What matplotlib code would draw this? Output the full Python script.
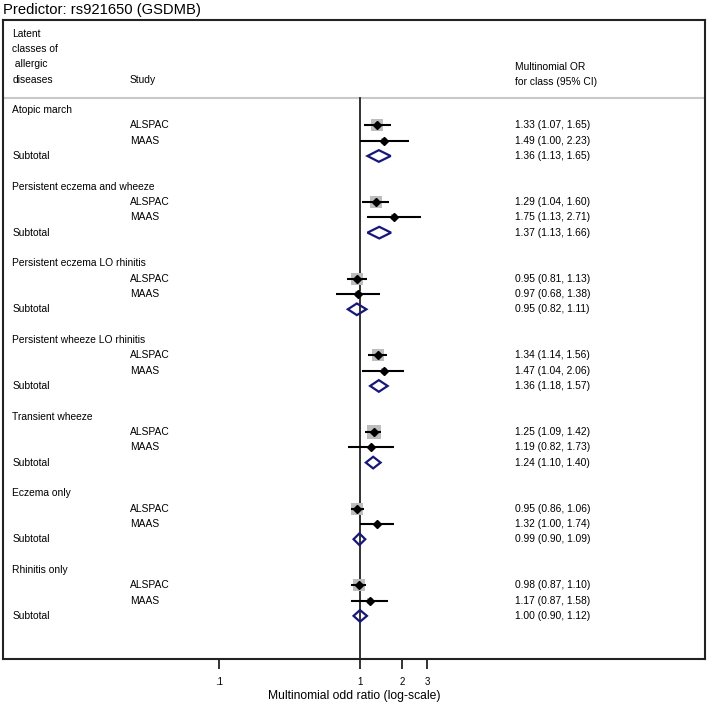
import numpy as np
import matplotlib.pyplot as plt
from matplotlib.patches import Polygon

plt.rcParams['font.family'] = ['Liberation Sans', 'DejaVu Sans']

classes = ["Atopic march", "Persistent eczema and wheeze", "Persistent eczema LO rhinitis",
           "Persistent wheeze LO rhinitis", "Transient wheeze", "Eczema only", "Rhinitis only"]
studies = ["ALSPAC", "MAAS"]

# per class: [ALSPAC, MAAS]
study_or = [[1.33, 1.49], [1.29, 1.75], [0.95, 0.97], [1.34, 1.47],
            [1.25, 1.19], [0.95, 1.32], [0.98, 1.17]]
study_lo = [[1.07, 1.00], [1.04, 1.13], [0.81, 0.68], [1.14, 1.04],
            [1.09, 0.82], [0.86, 1.00], [0.87, 0.87]]
study_hi = [[1.65, 2.23], [1.60, 2.71], [1.13, 1.38], [1.56, 2.06],
            [1.42, 1.73], [1.06, 1.74], [1.10, 1.58]]

sub_or = [1.36, 1.37, 0.95, 1.36, 1.24, 0.99, 1.00]
sub_lo = [1.13, 1.13, 0.82, 1.18, 1.10, 0.90, 0.90]
sub_hi = [1.65, 1.66, 1.11, 1.57, 1.40, 1.09, 1.12]

xticks = [0.1, 1, 2, 3]
xticklabels = [".1", "1", "2", "3"]

W, H = 709, 704
fig = plt.figure(figsize=(W / 100, H / 100), dpi=100)
ax = fig.add_axes([3 / W, 1 - 659 / H, 702 / W, 639 / H])

pitch = 15.33
row0 = 110
ax.set_xscale('log')
ax.set_xlim(10 ** (-357 / 141), 10 ** (345 / 141))
ax.set_ylim((659 - row0) / pitch, (20 - row0) / pitch)

tr = ax.get_yaxis_transform()
fs = 7.4
navy = '#17177a'

# header
sep = (97.5 - row0) / pitch
for txt, py in zip(["Latent", "classes of", " allergic", "diseases"], [34, 49, 64, 80]):
    ax.text(0.013, (py - row0) / pitch, txt, transform=tr, fontsize=fs, va='center')
ax.text(0.181, (80 - row0) / pitch, "Study", transform=tr, fontsize=fs, va='center')
ax.text(0.729, (67 - row0) / pitch, "Multinomial OR", transform=tr, fontsize=fs, va='center')
ax.text(0.729, (82 - row0) / pitch, "for class (95% CI)", transform=tr, fontsize=fs, va='center')
ax.axhline(sep, color='#c8c8c8', lw=1.5, zorder=1)

# null line
ax.plot([1, 1], [sep, ax.get_ylim()[0]], color='#222222', lw=1.3, zorder=2, clip_on=False)

for g, name in enumerate(classes):
    base = g * 5
    ax.text(0.013, base, name, transform=tr, fontsize=fs, va='center')
    se = [(np.log(study_hi[g][k]) - np.log(study_lo[g][k])) / 3.92 for k in range(2)]
    w = np.array([1 / s ** 2 for s in se])
    share = w / w.sum()
    for k, st in enumerate(studies):
        y = base + 1 + k
        ax.text(0.181, y, st, transform=tr, fontsize=fs, va='center')
        est, lo, hi = study_or[g][k], study_lo[g][k], study_hi[g][k]
        ax.text(0.729, y, f"{est:.2f} ({lo:.2f}, {hi:.2f})", transform=tr, fontsize=fs, va='center')
        side = 10.0 * np.sqrt(share[k])
        ax.scatter([est], [y], s=side ** 2, marker='s', color='#bdbdbd', lw=0, zorder=3)
        ax.plot([lo, hi], [y, y], color='black', lw=1.5, zorder=4, solid_capstyle='butt')
        ax.plot([est], [y], marker='D', color='black', ms=4.2, zorder=5)
    y = base + 3
    ax.text(0.013, y, "Subtotal", transform=tr, fontsize=fs, va='center')
    ax.text(0.729, y, f"{sub_or[g]:.2f} ({sub_lo[g]:.2f}, {sub_hi[g]:.2f})",
            transform=tr, fontsize=fs, va='center')
    h = 0.38
    dia = Polygon([(sub_lo[g], y), (sub_or[g], y - h), (sub_hi[g], y), (sub_or[g], y + h)],
                  closed=True, fill=False, edgecolor=navy, lw=1.6, zorder=5, joinstyle='miter')
    ax.add_patch(dia)

ax.set_yticks([])
ax.set_xticks(xticks)
ax.set_xticklabels(xticklabels, fontsize=7)
ax.minorticks_off()
ax.tick_params(axis='x', length=7, width=1.3, pad=6, color='#222222')
ax.set_xlabel("Multinomial odd ratio (log-scale)", fontsize=8.7, labelpad=2)
for sp in ax.spines.values():
    sp.set_linewidth(1.5)
    sp.set_color('#222222')

fig.text(3 / W, 1 - 10 / H, "Predictor: rs921650 (GSDMB)", fontsize=10.6, va='center', ha='left')

fig.savefig("out.png", dpi=100)
